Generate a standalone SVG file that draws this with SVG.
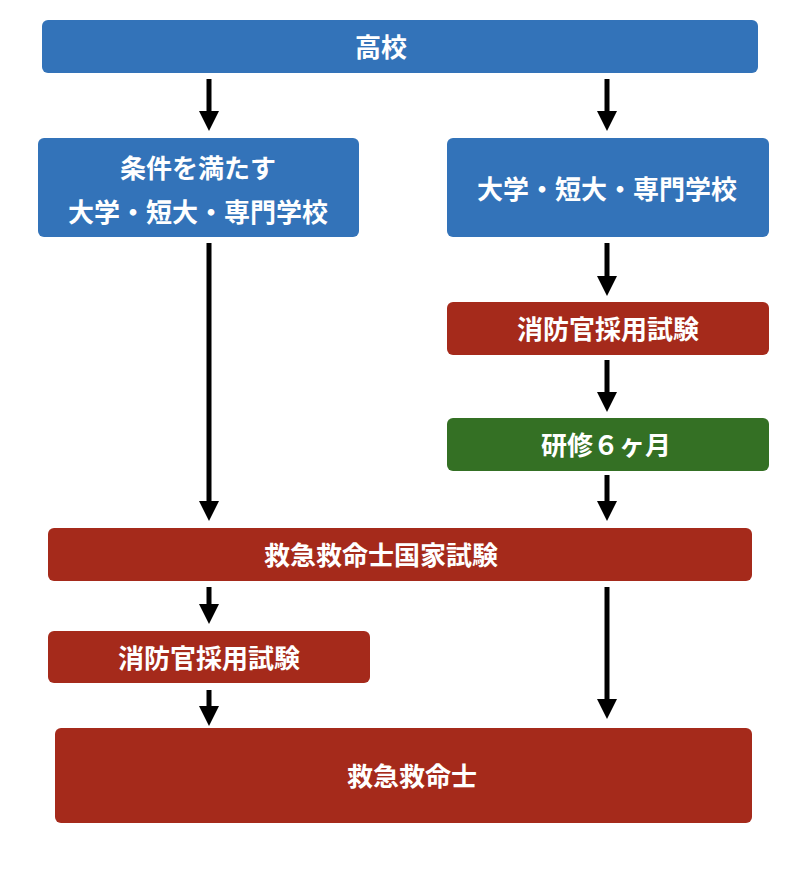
<svg xmlns="http://www.w3.org/2000/svg" width="800" height="873" viewBox="0 0 800 873">
<defs>
<marker id="ah" markerUnits="userSpaceOnUse" markerWidth="20" markerHeight="20" viewBox="0 0 20 20" refX="2" refY="10" orient="auto"><path d="M0,0 L20,10 L0,20 z" fill="#000"/></marker>
<style>
.blue{fill:#3373B9}
.red{fill:#A52A1B}
.green{fill:#347024}
text{font-family:"Noto Sans CJK JP","Noto Sans CJK SC",sans-serif;font-weight:bold;font-size:26px;fill:#fff;text-anchor:middle;dominant-baseline:central}
.conn line{stroke:#000;stroke-width:5;marker-end:url(#ah)}
</style>
</defs>
<rect width="800" height="873" fill="#fff"/>
<g id="koukou"><rect class="blue" x="42" y="20" width="716" height="53" rx="6"/><text x="381" y="45">高校</text></g>
<g id="daigaku-left"><rect class="blue" x="38" y="138" width="321" height="99" rx="6"/><text x="198" y="166">条件を満たす</text><text x="198" y="210">大学・短大・専門学校</text></g>
<g id="daigaku-right"><rect class="blue" x="447" y="138" width="322" height="99" rx="6"/><text x="607" y="187">大学・短大・専門学校</text></g>
<g id="shobo-right"><rect class="red" x="447" y="302" width="322" height="53" rx="6"/><text x="608" y="327">消防官採用試験</text></g>
<g id="kenshu"><rect class="green" x="447" y="418" width="322" height="53" rx="6"/><text x="606" y="443">研修６ヶ月</text></g>
<g id="kokka"><rect class="red" x="48" y="528" width="704" height="53" rx="6"/><text x="381" y="553">救急救命士国家試験</text></g>
<g id="shobo-left"><rect class="red" x="48" y="631" width="322" height="52" rx="6"/><text x="209" y="656">消防官採用試験</text></g>
<g id="kyukyu"><rect class="red" x="55" y="728" width="697" height="95" rx="6"/><text x="412" y="774">救急救命士</text></g>
<g class="conn" id="connectors">
<line x1="209" y1="79" x2="209" y2="113"/>
<line x1="607" y1="79" x2="607" y2="113"/>
<line x1="209" y1="243" x2="209" y2="503"/>
<line x1="607" y1="243" x2="607" y2="278"/>
<line x1="607" y1="360" x2="607" y2="394"/>
<line x1="607" y1="475" x2="607" y2="503"/>
<line x1="209" y1="587" x2="209" y2="606"/>
<line x1="607" y1="587" x2="607" y2="701"/>
<line x1="209" y1="690" x2="209" y2="708"/>
</g>
</svg>
